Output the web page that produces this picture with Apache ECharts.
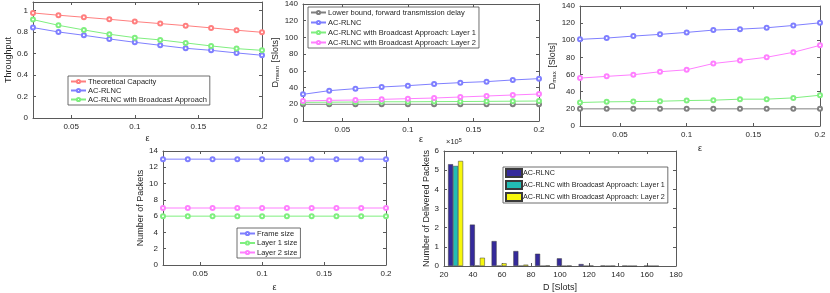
<!DOCTYPE html>
<html><head><meta charset="utf-8">
<script src="https://cdn.jsdelivr.net/npm/echarts@6/dist/echarts.min.js"></script>
<style>html,body{margin:0;padding:0;background:#fff}#c{width:830px;height:293px}</style>
</head><body><div id="c"></div>
<script>
// ---------- data ----------
const eps = [0.02, 0.04, 0.06, 0.08, 0.10, 0.12, 0.14, 0.16, 0.18, 0.20];
const epsTicks = [0.05, 0.1, 0.15, 0.2];

const thrTheory = [0.978, 0.957, 0.938, 0.919, 0.898, 0.879, 0.860, 0.839, 0.817, 0.798];
const thrAcrlnc = [0.842, 0.801, 0.770, 0.736, 0.705, 0.677, 0.649, 0.630, 0.606, 0.584];
const thrBroadcast = [0.916, 0.863, 0.820, 0.780, 0.748, 0.727, 0.699, 0.671, 0.646, 0.630];
const thrTicks = [0, 0.2, 0.4, 0.6, 0.8, 1];

const meanLower = [20, 20, 20, 20, 20, 20, 20, 20, 20, 20];
const meanAcrlnc = [31.9, 36.3, 38.7, 40.7, 42.3, 44.3, 45.9, 47.1, 49.1, 50.7];
const meanLayer1 = [22.3, 22.5, 22.7, 23.0, 23.0, 23.2, 23.3, 23.5, 23.7, 23.9];
const meanLayer2 = [23.9, 24.7, 25.1, 25.9, 26.7, 27.5, 28.7, 29.9, 31.1, 32.3];

const maxLower = [20, 20, 20, 20, 20, 20, 20, 20, 20, 20];
const maxAcrlnc = [101.1, 102.6, 104.9, 106.9, 109.2, 111.9, 113.0, 114.6, 117.3, 120.4];
const maxLayer1 = [27.4, 28.2, 28.5, 28.9, 29.7, 30.1, 31.3, 31.3, 32.8, 35.9];
const maxLayer2 = [55.9, 57.9, 59.8, 63.3, 65.6, 72.9, 76.4, 80.2, 86.0, 94.1];
const delayTicks = [0, 20, 40, 60, 80, 100, 120, 140];

const frameSize = [13, 13, 13, 13, 13, 13, 13, 13, 13, 13];
const layer1Size = [6, 6, 6, 6, 6, 6, 6, 6, 6, 6];
const layer2Size = [7, 7, 7, 7, 7, 7, 7, 7, 7, 7];
const packetTicks = [0, 2, 4, 6, 8, 10, 12, 14];

const binCenters = [28, 43, 58, 73, 88, 103, 118, 133, 148, 163];
const histAcrlnc = [5.31, 2.16, 1.30, 0.78, 0.64, 0.40, 0.10, 0.02, 0.01, 0.01];
const histLayer1 = [5.22, 0.02, 0.01, 0.005, 0, 0, 0, 0, 0, 0];
const histLayer2 = [5.48, 0.43, 0.14, 0.07, 0.03, 0.02, 0.02, 0.01, 0, 0];
const histXTicks = [20, 40, 60, 80, 100, 120, 140, 160, 180];
const histYTicks = [0, 1, 2, 3, 4, 5, 6];

// ---------- styling helpers ----------
const FONT = 'Liberation Sans, Arial, sans-serif';
const AX = '#262626';
const BOX = '#5a5a5a';
const C = { red: '#ff7f7f', blue: '#7f7fff', green: '#7fef7f', mag: '#ff7fff', gray: '#808080' };

const grids = [
  { left: 33, top: 2, width: 229, height: 116 },
  { left: 303, top: 4, width: 236, height: 117 },
  { left: 580, top: 6, width: 240, height: 120 },
  { left: 163, top: 151, width: 223, height: 116 },
  { left: 444, top: 151, width: 232, height: 116 }
];

const xAxes = [], yAxes = [];
function addAxes(gi, xr, xt, yr, yt, xName, yName, xGap, yGap, yRich) {
  const base = (pos, range, ticks, showLab, name, gap, rich) => ({
    type: 'value', gridIndex: gi, position: pos, min: range[0], max: range[1],
    axisLine: { show: true, onZero: false, lineStyle: { color: BOX, width: 1 } },
    axisTick: { show: true, inside: true, length: 3, customValues: ticks, lineStyle: { color: BOX } },
    axisLabel: { show: showLab, customValues: ticks, color: AX, fontSize: 8, fontFamily: FONT, margin: 5 },
    splitLine: { show: false },
    name: showLab ? name : '', nameLocation: 'middle', nameGap: gap,
    nameTextStyle: Object.assign({ color: AX, fontSize: 9, fontFamily: FONT }, rich ? { rich } : {})
  });
  xAxes.push(base('bottom', xr, xt, true, xName, xGap));
  xAxes.push(base('top', xr, xt, false, '', 0));
  yAxes.push(base('left', yr, yt, true, yName, yGap, yRich));
  yAxes.push(base('right', yr, yt, false, '', 0));
}

const subRich = {
  m: { fontSize: 9, fontFamily: FONT, color: AX, lineHeight: 10, verticalAlign: 'top' },
  s: { fontSize: 6, fontFamily: FONT, color: AX, lineHeight: 6, verticalAlign: 'bottom', padding: [0, 1, 0, 0] }
};

addAxes(0, [0.02, 0.2], epsTicks, [0, 1.08], thrTicks, 'ε', 'Throughput', 16, 12.5);
addAxes(1, [0.02, 0.2], epsTicks, [0, 140], delayTicks, 'ε', '{m|D}{s|mean}{m| [Slots]}', 13, 18, subRich);
addAxes(2, [0.02, 0.2], epsTicks, [0, 140], delayTicks, 'ε', '{m|D}{s|max}{m| [Slots]}', 18, 17, subRich);
addAxes(3, [0.02, 0.2], epsTicks, [0, 14], packetTicks, 'ε', 'Number of Packets', 18, 10);
addAxes(4, [20, 180], histXTicks, [0, 6], histYTicks, 'D [Slots]', 'Number of Delivered Packets', 17, 3);

const pair = (ys) => eps.map((e, i) => [e, ys[i]]);
function lineSeries(gi, name, ys, color) {
  return {
    type: 'line', name, xAxisIndex: gi * 2, yAxisIndex: gi * 2, data: pair(ys),
    symbol: 'emptyCircle', symbolSize: 4, showSymbol: true,
    lineStyle: { color, width: 1 }, itemStyle: { color, borderWidth: 1 },
    animation: false, z: 3
  };
}
function barSeries(name, ys, color) {
  return {
    type: 'bar', name, xAxisIndex: 8, yAxisIndex: 8,
    data: binCenters.map((x, i) => [x, ys[i]]),
    barWidth: 5, barGap: '0%',
    itemStyle: { color, borderColor: '#3a3a3a', borderWidth: 0.5 },
    animation: false
  };
}

const series = [
  lineSeries(0, 'a|Theoretical Capacity', thrTheory, C.red),
  lineSeries(0, 'a|AC-RLNC', thrAcrlnc, C.blue),
  lineSeries(0, 'a|AC-RLNC with Broadcast Approach', thrBroadcast, C.green),
  lineSeries(1, 'b|Lower bound, forward transmission delay', meanLower, C.gray),
  lineSeries(1, 'b|AC-RLNC', meanAcrlnc, C.blue),
  lineSeries(1, 'b|AC-RLNC with Broadcast Approach: Layer 1', meanLayer1, C.green),
  lineSeries(1, 'b|AC-RLNC with Broadcast Approach: Layer 2', meanLayer2, C.mag),
  lineSeries(2, 'c|Lower bound', maxLower, C.gray),
  lineSeries(2, 'c|AC-RLNC', maxAcrlnc, C.blue),
  lineSeries(2, 'c|Layer 1', maxLayer1, C.green),
  lineSeries(2, 'c|Layer 2', maxLayer2, C.mag),
  lineSeries(3, 'd|Frame size', frameSize, C.blue),
  lineSeries(3, 'd|Layer 1 size', layer1Size, C.green),
  lineSeries(3, 'd|Layer 2 size', layer2Size, C.mag),
  barSeries('e|AC-RLNC', histAcrlnc, '#352a9b'),
  barSeries('e|AC-RLNC with Broadcast Approach: Layer 1', histLayer1, '#22bdb4'),
  barSeries('e|AC-RLNC with Broadcast Approach: Layer 2', histLayer2, '#f7f70c')
];

function legend(names, left, top, gap, opts) {
  return Object.assign({
    data: names, orient: 'vertical', left, top, itemGap: gap,
    itemWidth: 15, itemHeight: 4, padding: [1, 3, 1, 2],
    backgroundColor: '#fff', borderColor: '#4a4a4a', borderWidth: 0.8, borderRadius: 0,
    selectedMode: false,
    formatter: (n) => n.split('|')[1],
    textStyle: { fontSize: 7.5, fontFamily: FONT, color: AX, padding: [0, 0, 0, -3], lineHeight: 9 }
  }, opts || {});
}

const option = {
  animation: false,
  backgroundColor: '#fff',
  grid: grids.map(g => Object.assign({ containLabel: false }, g)),
  xAxis: xAxes, yAxis: yAxes, series,
  legend: [
    legend(['a|Theoretical Capacity', 'a|AC-RLNC', 'a|AC-RLNC with Broadcast Approach'], 68, 76, 0),
    legend(['b|Lower bound, forward transmission delay', 'b|AC-RLNC', 'b|AC-RLNC with Broadcast Approach: Layer 1', 'b|AC-RLNC with Broadcast Approach: Layer 2'], 308, 7, 1),
    legend(['d|Frame size', 'd|Layer 1 size', 'd|Layer 2 size'], 237, 228, 0.5),
    legend(['e|AC-RLNC', 'e|AC-RLNC with Broadcast Approach: Layer 1', 'e|AC-RLNC with Broadcast Approach: Layer 2'], 503, 167, 2,
      { itemWidth: 16, itemHeight: 8, icon: 'rect', textStyle: { fontSize: 7.2, fontFamily: FONT, color: AX, padding: [0, 0, 0, -4], lineHeight: 9 } })
  ],
  graphic: [{
    type: 'text', left: 446, top: 137, z: 100,
    style: {
      text: '{a|×10}{b|5}',
      rich: {
        a: { fontSize: 7.5, fontFamily: FONT, fill: AX, verticalAlign: 'bottom', lineHeight: 9 },
        b: { fontSize: 5.5, fontFamily: FONT, fill: AX, verticalAlign: 'top', lineHeight: 6 }
      }
    }
  }]
};

const chart = echarts.init(document.getElementById('c'), null, { renderer: 'canvas' });
chart.setOption(option);
</script></body></html>
